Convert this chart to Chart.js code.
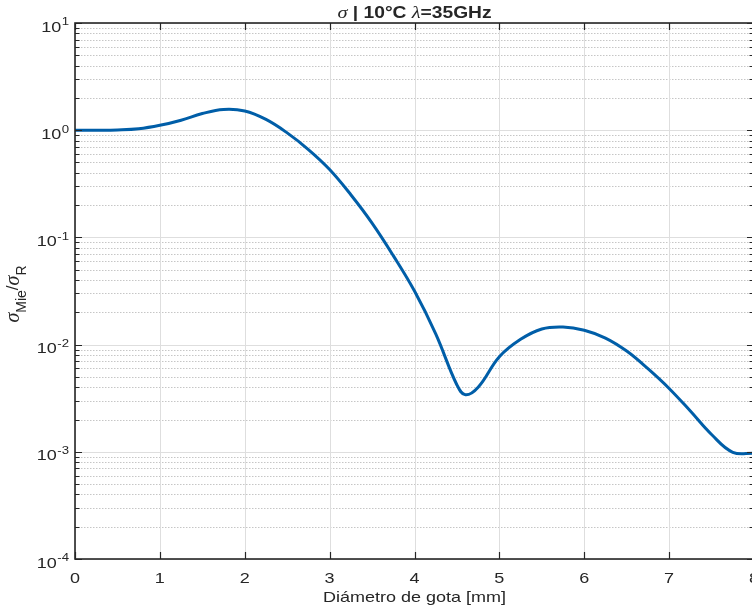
<!DOCTYPE html>
<html>
<head>
<meta charset="utf-8">
<title>sigma Mie / sigma R</title>
<script src="https://cdn.jsdelivr.net/npm/chart.js"></script>
<style>
  html, body { margin: 0; padding: 0; background: #fff; overflow: hidden; }
  #wrap { width: 760px; height: 615px; }
</style>
</head>
<body>
<div id="wrap"><canvas id="chartMie" width="760" height="615"></canvas></div>
<script>
// diametro de gota [mm] y razon sigma_Mie / sigma_R a 10 C, 35 GHz
const diametros = [0, 0.25, 0.5, 0.75, 1.0, 1.25, 1.5, 1.75, 2.0, 2.25, 2.5, 2.75, 3.0, 3.25, 3.5, 3.75,
  4.0, 4.25, 4.5, 4.6, 4.75, 5.0, 5.25, 5.5, 5.75, 6.0, 6.25, 6.5, 6.75, 7.0, 7.25, 7.5, 7.75, 8.0];
const razonMie = [1.0, 1.0, 1.005, 1.03, 1.11, 1.24, 1.43, 1.56, 1.51, 1.26, 0.944, 0.66, 0.43, 0.25, 0.136, 0.0676,
  0.0316, 0.0126, 0.0042, 0.0034, 0.0040, 0.0077, 0.0112, 0.014, 0.0146, 0.0136, 0.0115, 0.0087, 0.00596, 0.0039, 0.0024, 0.00145, 0.00099, 0.00097];

const xTicks = [0, 1, 2, 3, 4, 5, 6, 7, 8];
const yExponentes = [-4, -3, -2, -1, 0, 1];
const xTitulo = 'Diámetro de gota [mm]';

const SX = 1.2;           // ancho de letra
const TINTA = '#262626';
const FUENTE = '"Liberation Sans", Arial, sans-serif';
const SERIF = '"Liberation Serif", "Times New Roman", serif';

function texto(ctx, s, x, y, font, align) {
  ctx.save();
  ctx.font = font;
  const w = ctx.measureText(s).width * SX;
  const x0 = align === 'center' ? x - w / 2 : align === 'right' ? x - w : x;
  ctx.translate(x0, y);
  ctx.scale(SX, 1);
  ctx.textAlign = 'left';
  ctx.textBaseline = 'alphabetic';
  ctx.fillText(s, 0, 0);
  ctx.restore();
  return w;
}
function ancho(ctx, s, font) {
  ctx.save(); ctx.font = font;
  const w = ctx.measureText(s).width * SX;
  ctx.restore();
  return w;
}

const ejes = {
  id: 'ejes',
  beforeDatasetsDraw(chart) {
    const { ctx, chartArea: a, scales: { x, y } } = chart;
    ctx.save();
    ctx.lineWidth = 1;
    // rejilla menor punteada
    ctx.strokeStyle = '#c6c6c6';
    ctx.setLineDash([1.5, 1.5]);
    yExponentes.slice(0, -1).forEach(e => {
      for (let m = 2; m <= 9; m++) {
        const py = Math.round(y.getPixelForValue(m * Math.pow(10, e))) + 0.5;
        ctx.beginPath(); ctx.moveTo(a.left, py); ctx.lineTo(a.right, py); ctx.stroke();
      }
    });
    // rejilla mayor
    ctx.setLineDash([]);
    ctx.strokeStyle = '#dedede';
    yExponentes.forEach(e => {
      const py = Math.round(y.getPixelForValue(Math.pow(10, e))) + 0.5;
      ctx.beginPath(); ctx.moveTo(a.left, py); ctx.lineTo(a.right, py); ctx.stroke();
    });
    xTicks.forEach(v => {
      const px = Math.round(x.getPixelForValue(v)) + 0.5;
      ctx.beginPath(); ctx.moveTo(px, a.top); ctx.lineTo(px, a.bottom); ctx.stroke();
    });
    ctx.restore();
  },
  afterDraw(chart) {
    const { ctx, chartArea: a, scales: { x, y } } = chart;
    ctx.save();
    ctx.strokeStyle = TINTA;
    ctx.fillStyle = TINTA;
    ctx.lineWidth = 1.6;
    ctx.strokeRect(a.left, a.top, a.right - a.left, a.bottom - a.top);

    // marcas hacia dentro
    ctx.lineWidth = 1.2;
    yExponentes.forEach((e, i) => {
      for (let m = 1; m <= 9; m++) {
        if (m > 1 && i === yExponentes.length - 1) break;
        const py = Math.round(y.getPixelForValue(m * Math.pow(10, e))) + 0.5;
        const len = m === 1 ? 7 : 4.5;
        ctx.beginPath();
        ctx.moveTo(a.left, py); ctx.lineTo(a.left + len, py);
        ctx.moveTo(a.right, py); ctx.lineTo(a.right - len, py);
        ctx.stroke();
      }
    });
    xTicks.forEach(v => {
      const px = Math.round(x.getPixelForValue(v)) + 0.5;
      ctx.beginPath();
      ctx.moveTo(px, a.bottom); ctx.lineTo(px, a.bottom - 7);
      ctx.moveTo(px, a.top); ctx.lineTo(px, a.top + 7);
      ctx.stroke();
    });

    // etiquetas del eje x
    xTicks.forEach(v => {
      texto(ctx, String(v), x.getPixelForValue(v), a.bottom + 24, '15px ' + FUENTE, 'center');
    });
    // etiquetas del eje y: 10^e
    const fBase = '15px ' + FUENTE, fSup = '11px ' + FUENTE;
    yExponentes.forEach(e => {
      const py = y.getPixelForValue(Math.pow(10, e));
      const sup = e < 0 ? '-' + (-e) : String(e);
      const ws = ancho(ctx, sup, fSup);
      const derecha = a.left - 6;
      texto(ctx, sup, derecha - ws, py + 2.3, fSup, 'left');
      texto(ctx, '10', derecha - ws - 0.5, py + 8.6, fBase, 'right');
    });

    // titulo del eje x
    texto(ctx, xTitulo, (a.left + a.right) / 2, a.bottom + 43, '15px ' + FUENTE, 'center');

    // titulo: sigma | 10°C lambda=35GHz
    const partes = [
      ['σ', 'italic 17px ' + SERIF],
      [' | 10°C ', 'bold 16px ' + FUENTE],
      ['λ', 'italic 17px ' + SERIF],
      ['=35GHz', 'bold 16px ' + FUENTE]
    ];
    let total = 0;
    partes.forEach(p => { total += ancho(ctx, p[0], p[1]); });
    let cx = (a.left + a.right) / 2 - total / 2;
    partes.forEach(p => { cx += texto(ctx, p[0], cx, 18, p[1], 'left'); });

    // titulo del eje y: sigma_Mie / sigma_R (girado)
    const yPartes = [
      ['σ', 'italic 20px ' + SERIF, 0],
      ['Mie', '14px ' + FUENTE, 7],
      ['/', '17px ' + FUENTE, -1],
      ['σ', 'italic 20px ' + SERIF, 0],
      ['R', '14px ' + FUENTE, 7]
    ];
    const medidas = yPartes.map(p => { ctx.font = p[1]; return ctx.measureText(p[0]).width; });
    const largo = medidas.reduce((s, w) => s + w, 0);
    ctx.translate(0, (a.top + a.bottom) / 2 + 3);
    ctx.rotate(-Math.PI / 2);
    let tx = -largo / 2;
    yPartes.forEach((p, i) => {
      ctx.font = p[1];
      ctx.textAlign = 'left';
      ctx.fillText(p[0], tx, 19 + p[2]);
      tx += medidas[i];
    });
    ctx.restore();
  }
};

new Chart(document.getElementById('chartMie').getContext('2d'), {
  type: 'line',
  data: {
    datasets: [{
      data: diametros.map((d, i) => ({ x: d, y: razonMie[i] })),
      borderColor: '#005ea8',
      borderWidth: 3,
      pointRadius: 0,
      tension: 0.4,
      fill: false
    }]
  },
  options: {
    responsive: false,
    animation: false,
    layout: { padding: { top: 23, right: 6, left: 0, bottom: 0 } },
    plugins: { legend: { display: false }, tooltip: { enabled: false }, title: { display: false } },
    scales: {
      x: {
        type: 'linear', min: 0, max: 8,
        grid: { display: false }, border: { display: false }, ticks: { display: false },
        afterFit(s) { s.height = 56; }
      },
      y: {
        type: 'logarithmic', min: 1e-4, max: 10,
        grid: { display: false }, border: { display: false }, ticks: { display: false },
        afterFit(s) { s.width = 75; }
      }
    }
  },
  plugins: [ejes]
});
</script>
</body>
</html>
